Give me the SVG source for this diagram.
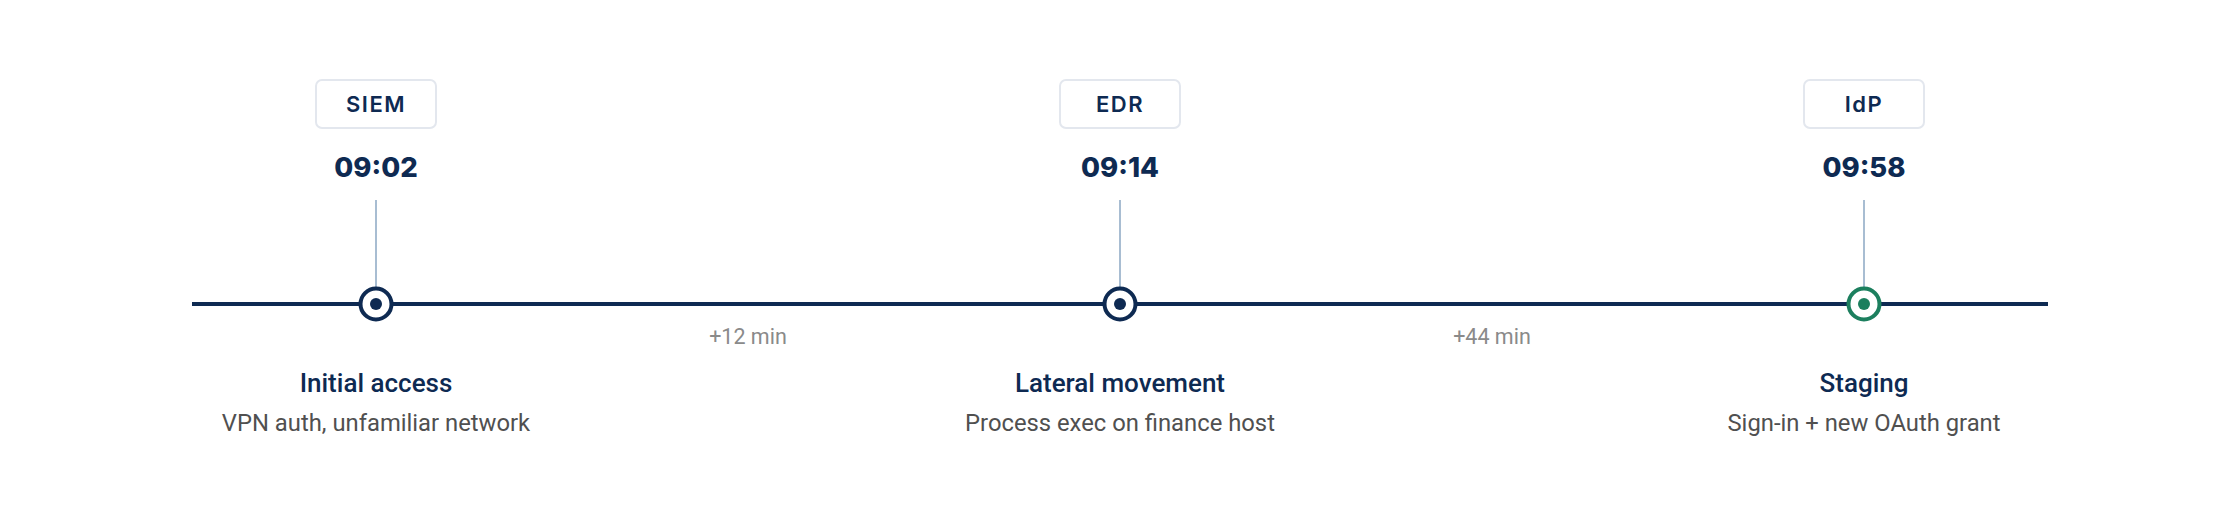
<svg xmlns="http://www.w3.org/2000/svg" width="2240" height="512" viewBox="0 0 2240 512">
<style>
.src rect{fill:#ffffff;stroke:#e3e7ee;stroke-width:2}
.src text{font-family:Inter,"Noto Sans",sans-serif;font-weight:600;font-size:22px;fill:#0e2a52;letter-spacing:1.5px;text-anchor:middle}
.time{font-family:Inter,"Noto Sans",sans-serif;font-weight:800;font-size:27.5px;fill:#0e2a52;text-anchor:middle}
.stem{stroke:#a8bdd2;stroke-width:2}
.title{font-family:Roboto,"Noto Sans",sans-serif;font-weight:500;font-size:26px;fill:#0e2a52;text-anchor:middle}
.desc{font-family:Roboto,"Noto Sans",sans-serif;font-weight:400;font-size:23.8px;fill:#505050;text-anchor:middle}
.gap{font-family:Roboto,"Noto Sans",sans-serif;font-weight:400;font-size:21.5px;fill:#8a8a8a;text-anchor:middle}
.ring{fill:#ffffff;stroke:#0e2a52;stroke-width:4}
.dot{fill:#0e2a52}
.ring.ok{stroke:#1c7f5e}
.dot.ok{fill:#1c7f5e}
</style>
<rect width="2240" height="512" fill="#ffffff"/>
<g id="connectors">
<line x1="192" y1="304" x2="2048" y2="304" stroke="#0e2a52" stroke-width="4"/>
<text class="gap" x="748" y="344">+12 min</text>
<text class="gap" x="1492" y="344">+44 min</text>
</g>
<g id="event-initial-access">
<g class="src"><rect x="316" y="80" width="120" height="48" rx="6"/><text x="376" y="112">SIEM</text></g>
<text class="time" x="376" y="177">09:02</text>
<line class="stem" x1="376" y1="200" x2="376" y2="287"/>
<circle class="ring" cx="376" cy="304" r="15.5"/>
<circle class="dot" cx="376" cy="304" r="6"/>
<text class="title" x="376" y="392">Initial access</text>
<text class="desc" x="376" y="431">VPN auth, unfamiliar network</text>
</g>
<g id="event-lateral-movement">
<g class="src"><rect x="1060" y="80" width="120" height="48" rx="6"/><text x="1120" y="112">EDR</text></g>
<text class="time" x="1120" y="177">09:14</text>
<line class="stem" x1="1120" y1="200" x2="1120" y2="287"/>
<circle class="ring" cx="1120" cy="304" r="15.5"/>
<circle class="dot" cx="1120" cy="304" r="6"/>
<text class="title" x="1120" y="392">Lateral movement</text>
<text class="desc" x="1120" y="431">Process exec on finance host</text>
</g>
<g id="event-staging">
<g class="src"><rect x="1804" y="80" width="120" height="48" rx="6"/><text x="1864" y="112">IdP</text></g>
<text class="time" x="1864" y="177">09:58</text>
<line class="stem" x1="1864" y1="200" x2="1864" y2="287"/>
<circle class="ring ok" cx="1864" cy="304" r="15.5"/>
<circle class="dot ok" cx="1864" cy="304" r="6"/>
<text class="title" x="1864" y="392">Staging</text>
<text class="desc" x="1864" y="431">Sign-in + new OAuth grant</text>
</g>
</svg>
